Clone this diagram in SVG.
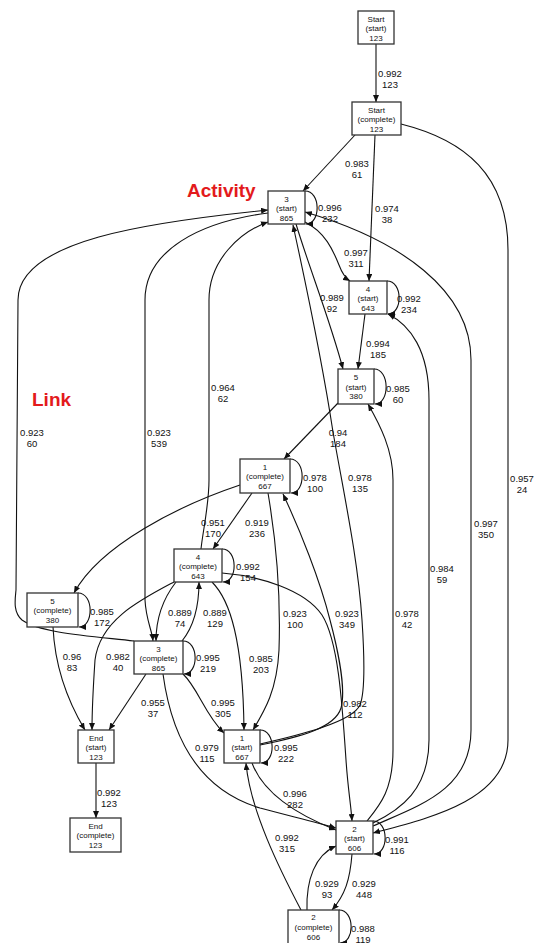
<svg xmlns="http://www.w3.org/2000/svg" width="537" height="943" viewBox="0 0 537 943">
<defs>
<marker id="ah" markerUnits="userSpaceOnUse" markerWidth="7" markerHeight="6" viewBox="0 0 7 6" refX="7" refY="3" orient="auto"><path d="M0,0 L7,3 L0,6 z" fill="#111"/></marker>
</defs>
<style>
.n rect{fill:#fff;stroke:#333;stroke-width:1.3}
.n text{font-family:"Liberation Sans",Arial,sans-serif;font-size:8px;text-anchor:middle;fill:#111}
.e path{fill:none;stroke:#111;stroke-width:1.1;marker-end:url(#ah)}
.l text{font-family:"Liberation Sans",Arial,sans-serif;font-size:9.5px;text-anchor:middle;fill:#111}
.ann{font-family:"Liberation Sans",Arial,sans-serif;font-weight:bold;font-size:19px;fill:#e31a1c}
</style>
<rect width="537" height="943" fill="#fff"/>
<g id="connectors" class="e">
<path d="M376,44 L376,102"/>
<path d="M355,135 L303,191"/>
<path d="M375,135 L369,281"/>
<path d="M401,124 C465,140 508,175 508,250 L508,740 C508,800 430,818 373,833"/>
<path d="M305,222 C325,232 333,250 339,265 C342,273 345,278 350,281"/>
<path d="M296,224 C310,270 330,320 343,369"/>
<path d="M365,314 L358,369"/>
<path d="M338,403 L284,459"/>
<path d="M260,744 C300,735 352,722 360,705 C366,690 364,650 362,620 C358,560 345,500 333,432 C322,360 305,280 293,225"/>
<path d="M260,745 C300,737 335,728 341,708 C346,690 338,650 330,620 C320,580 300,530 283,494"/>
<path d="M201,549 C203,530 209,505 209,480 L209,300 C209,260 240,232 268,222"/>
<path d="M134,641 C90,636 40,633 22,620 C13,612 15,600 16,590 L18,300 C18,240 150,222 268,210"/>
<path d="M268,213 C200,222 145,250 145,300 L145,600 C146,620 152,630 153,641"/>
<path d="M240,485 C180,505 100,545 74,593"/>
<path d="M252,493 L213,549"/>
<path d="M373,826 C420,805 471,790 471,730 L471,360 C471,290 400,240 305,212"/>
<path d="M373,823 C400,810 429,790 429,740 L429,400 C429,350 410,325 388,314"/>
<path d="M367,821 C380,805 393,790 393,750 L393,480 C393,450 380,425 368,404"/>
<path d="M222,573 C260,576 305,590 322,615 C338,640 342,700 346,760 C348,790 351,805 352,821"/>
<path d="M268,493 C276,540 281,590 279,650 C277,690 265,710 253,730"/>
<path d="M212,582 C230,600 243,640 244,730"/>
<path d="M176,582 C162,600 156,620 156,641"/>
<path d="M182,641 C195,625 199,605 199,582"/>
<path d="M53,627 C55,670 70,705 85,730"/>
<path d="M174,582 C140,600 100,620 95,660 C93,690 92,710 92,730"/>
<path d="M146,674 L109,730"/>
<path d="M183,674 C198,688 205,715 224,733"/>
<path d="M163,674 C172,740 200,790 260,808 C290,816 315,822 336,828"/>
<path d="M252,763 C262,790 290,812 336,830"/>
<path d="M301,910 C280,870 250,810 246,763"/>
<path d="M307,910 C306,880 315,855 336,846"/>
<path d="M352,854 C350,880 345,895 332,910"/>
<path d="M96,763 L96,818"/>
<path d="M305,191 C321,191 321,224 306,224"/>
<path d="M387,281 C403,281 403,314 388,314"/>
<path d="M374,369 C390,369 390,404 375,404"/>
<path d="M290,459 C306,459 306,493 291,493"/>
<path d="M222,549 C238,549 238,582 223,582"/>
<path d="M78,593 C94,593 94,627 79,627"/>
<path d="M183,641 C199,641 199,674 184,674"/>
<path d="M260,730 C276,730 276,763 261,763"/>
<path d="M373,821 C389,821 389,854 374,854"/>
<path d="M339,910 C355,910 355,943 340,943"/>
</g>
<g id="labels" class="l">
<text x="390" y="76.5">0.992<tspan x="390" dy="11">123</tspan></text>
<text x="357" y="166.5">0.983<tspan x="357" dy="11">61</tspan></text>
<text x="387" y="211.5">0.974<tspan x="387" dy="11">38</tspan></text>
<text x="330" y="210.5">0.996<tspan x="330" dy="11">232</tspan></text>
<text x="356" y="255.5">0.997<tspan x="356" dy="11">311</tspan></text>
<text x="332" y="300.5">0.989<tspan x="332" dy="11">92</tspan></text>
<text x="409" y="301.5">0.992<tspan x="409" dy="11">234</tspan></text>
<text x="378" y="346.5">0.994<tspan x="378" dy="11">185</tspan></text>
<text x="398" y="391.5">0.985<tspan x="398" dy="11">60</tspan></text>
<text x="338" y="435.5">0.94<tspan x="338" dy="11">184</tspan></text>
<text x="315" y="480.5">0.978<tspan x="315" dy="11">100</tspan></text>
<text x="360" y="480.5">0.978<tspan x="360" dy="11">135</tspan></text>
<text x="522" y="481.5">0.957<tspan x="522" dy="11">24</tspan></text>
<text x="486" y="526.5">0.997<tspan x="486" dy="11">350</tspan></text>
<text x="442" y="571.5">0.984<tspan x="442" dy="11">59</tspan></text>
<text x="223" y="390.5">0.964<tspan x="223" dy="11">62</tspan></text>
<text x="32" y="435.5">0.923<tspan x="32" dy="11">60</tspan></text>
<text x="159" y="435.5">0.923<tspan x="159" dy="11">539</tspan></text>
<text x="213" y="525.5">0.951<tspan x="213" dy="11">170</tspan></text>
<text x="257" y="525.5">0.919<tspan x="257" dy="11">236</tspan></text>
<text x="248" y="569.5">0.992<tspan x="248" dy="11">154</tspan></text>
<text x="102" y="614.5">0.985<tspan x="102" dy="11">172</tspan></text>
<text x="180" y="615.5">0.889<tspan x="180" dy="11">74</tspan></text>
<text x="215" y="615.5">0.889<tspan x="215" dy="11">129</tspan></text>
<text x="295" y="616.5">0.923<tspan x="295" dy="11">100</tspan></text>
<text x="347" y="616.5">0.923<tspan x="347" dy="11">349</tspan></text>
<text x="407" y="616.5">0.978<tspan x="407" dy="11">42</tspan></text>
<text x="72" y="659.5">0.96<tspan x="72" dy="11">83</tspan></text>
<text x="118" y="659.5">0.982<tspan x="118" dy="11">40</tspan></text>
<text x="208" y="660.5">0.995<tspan x="208" dy="11">219</tspan></text>
<text x="261" y="661.5">0.985<tspan x="261" dy="11">203</tspan></text>
<text x="153" y="705.5">0.955<tspan x="153" dy="11">37</tspan></text>
<text x="223" y="705.5">0.995<tspan x="223" dy="11">305</tspan></text>
<text x="355" y="706.5">0.982<tspan x="355" dy="11">112</tspan></text>
<text x="207" y="750.5">0.979<tspan x="207" dy="11">115</tspan></text>
<text x="286" y="750.5">0.995<tspan x="286" dy="11">222</tspan></text>
<text x="109" y="795.5">0.992<tspan x="109" dy="11">123</tspan></text>
<text x="295" y="796.5">0.996<tspan x="295" dy="11">282</tspan></text>
<text x="287" y="840.5">0.992<tspan x="287" dy="11">315</tspan></text>
<text x="397" y="842.5">0.991<tspan x="397" dy="11">116</tspan></text>
<text x="327" y="886.5">0.929<tspan x="327" dy="11">93</tspan></text>
<text x="364" y="886.5">0.929<tspan x="364" dy="11">448</tspan></text>
<text x="363" y="931.5">0.988<tspan x="363" dy="11">119</tspan></text>
</g>
<g id="n_start_s" class="n"><rect x="358" y="11" width="36" height="33"/><text x="376" y="21.5">Start</text><text x="376" y="31">(start)</text><text x="376" y="40.5">123</text></g>
<g id="n_start_c" class="n"><rect x="352" y="102" width="49" height="33"/><text x="376.5" y="112.5">Start</text><text x="376.5" y="122">(complete)</text><text x="376.5" y="131.5">123</text></g>
<g id="n_3s" class="n"><rect x="268" y="191" width="37" height="33"/><text x="286.5" y="201.5">3</text><text x="286.5" y="211">(start)</text><text x="286.5" y="220.5">865</text></g>
<g id="n_4s" class="n"><rect x="349" y="281" width="38" height="33"/><text x="368" y="291.5">4</text><text x="368" y="301">(start)</text><text x="368" y="310.5">643</text></g>
<g id="n_5s" class="n"><rect x="338" y="369" width="36" height="35"/><text x="356" y="380">5</text><text x="356" y="389.5">(start)</text><text x="356" y="399">380</text></g>
<g id="n_1c" class="n"><rect x="240" y="459" width="50" height="34"/><text x="265" y="469.5">1</text><text x="265" y="479">(complete)</text><text x="265" y="488.5">667</text></g>
<g id="n_4c" class="n"><rect x="174" y="549" width="48" height="33"/><text x="198" y="559.5">4</text><text x="198" y="569">(complete)</text><text x="198" y="578.5">643</text></g>
<g id="n_5c" class="n"><rect x="27" y="593" width="51" height="34"/><text x="52.5" y="603.5">5</text><text x="52.5" y="613">(complete)</text><text x="52.5" y="622.5">380</text></g>
<g id="n_3c" class="n"><rect x="134" y="641" width="49" height="33"/><text x="158.5" y="651.5">3</text><text x="158.5" y="661">(complete)</text><text x="158.5" y="670.5">865</text></g>
<g id="n_end_s" class="n"><rect x="78" y="730" width="36" height="33"/><text x="96" y="740.5">End</text><text x="96" y="750">(start)</text><text x="96" y="759.5">123</text></g>
<g id="n_end_c" class="n"><rect x="70" y="818" width="51" height="34"/><text x="95.5" y="828.5">End</text><text x="95.5" y="838">(complete)</text><text x="95.5" y="847.5">123</text></g>
<g id="n_1s" class="n"><rect x="224" y="730" width="36" height="33"/><text x="242" y="740.5">1</text><text x="242" y="750">(start)</text><text x="242" y="759.5">667</text></g>
<g id="n_2s" class="n"><rect x="336" y="821" width="37" height="33"/><text x="354.5" y="831.5">2</text><text x="354.5" y="841">(start)</text><text x="354.5" y="850.5">606</text></g>
<g id="n_2c" class="n"><rect x="288" y="910" width="51" height="36"/><text x="313.5" y="920">2</text><text x="313.5" y="930">(complete)</text><text x="313.5" y="939.5">606</text></g>
<text class="ann" x="187" y="197">Activity</text>
<text class="ann" x="32" y="406">Link</text>
</svg>
